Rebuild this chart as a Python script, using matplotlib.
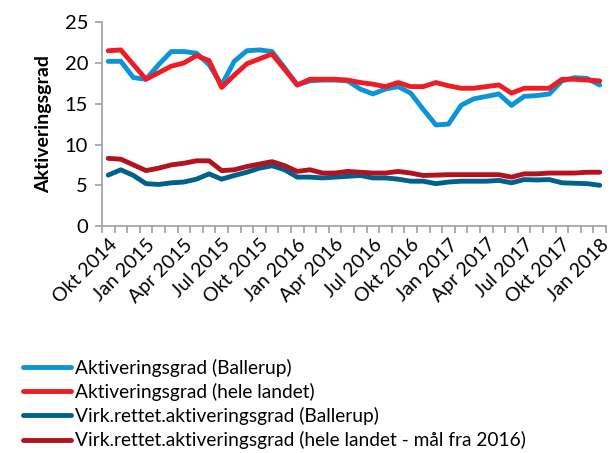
import matplotlib
matplotlib.use("Agg")
import matplotlib.pyplot as plt
import numpy as np

# Data (monthly, Okt 2014 - Jan 2018)
months = []
for yr in range(2014, 2019):
    for m in ["Jan", "Feb", "Mar", "Apr", "Maj", "Jun", "Jul", "Aug", "Sep", "Okt", "Nov", "Dec"]:
        months.append(f"{m} {yr}")
months = months[months.index("Okt 2014"):months.index("Jan 2018") + 1]

akt_ballerup = [20.2, 20.2, 18.2, 18.0, 19.8, 21.4, 21.4, 21.2, 19.8, 17.3,
                20.2, 21.5, 21.6, 21.4, 19.4, 17.3, 17.8, 17.9, 17.9, 17.8,
                16.8, 16.2, 16.8, 17.1, 16.3, 14.3, 12.4, 12.5, 14.8, 15.6,
                15.9, 16.2, 14.8, 15.9, 16.0, 16.2, 17.8, 18.2, 18.1, 17.3]
akt_landet = [21.5, 21.6, 19.8, 18.0, 18.8, 19.6, 20.0, 20.9, 20.3, 17.0,
              18.5, 19.9, 20.5, 21.1, 19.2, 17.3, 18.0, 18.0, 18.0, 17.9,
              17.6, 17.4, 17.1, 17.6, 17.1, 17.1, 17.6, 17.2, 16.9, 16.9,
              17.1, 17.3, 16.3, 16.9, 16.9, 16.9, 18.0, 18.0, 17.9, 17.8]
virk_ballerup = [6.25, 6.9, 6.2, 5.2, 5.1, 5.3, 5.4, 5.75, 6.4, 5.75,
                 6.2, 6.6, 7.1, 7.4, 6.9, 6.0, 6.0, 5.9, 6.0, 6.1,
                 6.2, 5.9, 5.9, 5.75, 5.5, 5.5, 5.2, 5.4, 5.5, 5.5,
                 5.5, 5.6, 5.3, 5.7, 5.65, 5.7, 5.3, 5.25, 5.2, 5.0]
virk_landet = [8.3, 8.2, 7.5, 6.8, 7.1, 7.5, 7.7, 8.0, 8.0, 6.8,
               6.9, 7.3, 7.6, 7.9, 7.4, 6.7, 6.9, 6.5, 6.5, 6.7,
               6.6, 6.5, 6.5, 6.7, 6.5, 6.2, 6.25, 6.3, 6.3, 6.3,
               6.3, 6.3, 6.0, 6.4, 6.4, 6.5, 6.5, 6.5, 6.6, 6.6]

labels = ["Aktiveringsgrad (Ballerup)",
          "Aktiveringsgrad (hele landet)",
          "Virk.rettet.aktiveringsgrad (Ballerup)",
          "Virk.rettet.aktiveringsgrad (hele landet - mål fra 2016)"]
colors = ["#0B95D8", "#EE1C25", "#00628B", "#B4121E"]

plt.rcParams['font.family'] = ['Lato', 'DejaVu Sans']

fig = plt.figure(figsize=(6.14, 4.53), dpi=100)
ax = fig.add_axes([0.166, 0.501, 0.821, 0.45])

x = np.arange(len(months))
for series, lab, col in zip([akt_ballerup, akt_landet, virk_ballerup, virk_landet], labels, colors):
    ax.plot(x, series, color=col, lw=3.5, label=lab, solid_capstyle='round', solid_joinstyle='round')

ax.set_xlim(-0.5, len(months) - 0.5)
ax.set_ylim(0, 25)
ax.set_yticks([0, 5, 10, 15, 20, 25])

# category-style ticks: marks between months, labels every third month
ax.set_xticks(np.arange(-0.5, len(months)), minor=True)
ax.set_xticks(x[::3])
ax.set_xticklabels(months[::3], rotation=45, ha='right', rotation_mode='anchor')
ax.tick_params(axis='x', which='major', length=0, labelsize=14, pad=7)
ax.tick_params(axis='x', which='minor', length=5, color='#A0A0A0', width=1.2)
ax.tick_params(axis='y', length=5, color='#A0A0A0', width=1.2, labelsize=14.5, pad=5)

for s in ['top', 'right']:
    ax.spines[s].set_visible(False)
for s in ['left', 'bottom']:
    ax.spines[s].set_color('#A0A0A0')
    ax.spines[s].set_linewidth(1.2)

ax.set_ylabel("Aktiveringsgrad", fontsize=14, fontweight='bold', labelpad=9)

fig.legend(loc='upper left', bbox_to_anchor=(0.025, 0.225), frameon=False,
           fontsize=13.8, handlelength=2.5, handletextpad=0.2, labelspacing=0.32,
           borderaxespad=0)

fig.savefig("out.png", dpi=100)
